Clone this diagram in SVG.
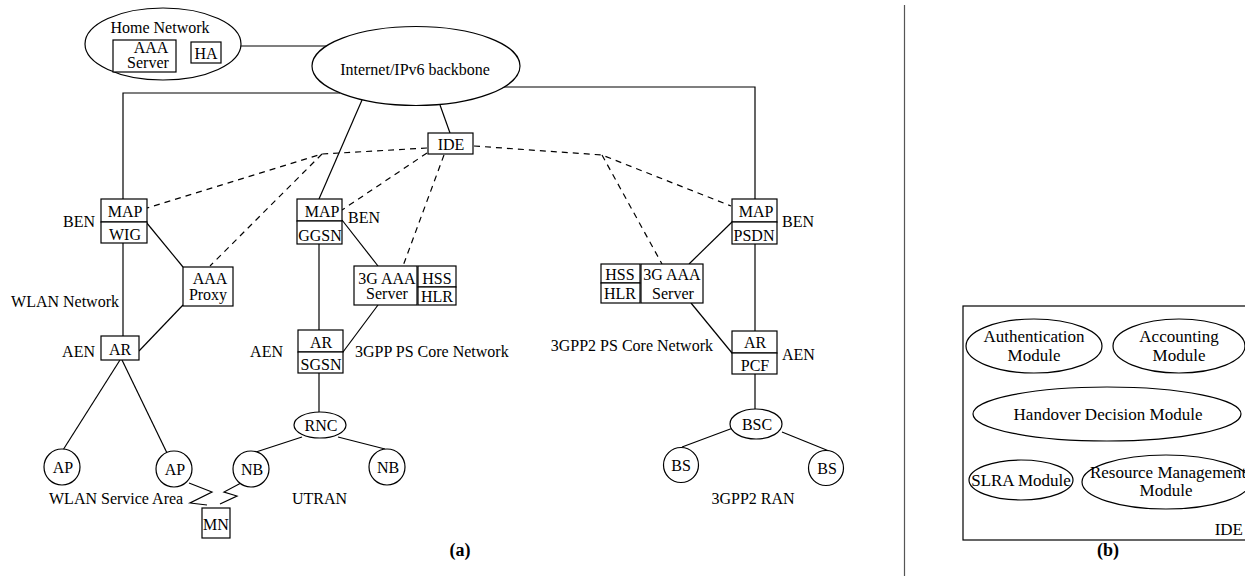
<svg xmlns="http://www.w3.org/2000/svg" width="1245" height="576" viewBox="0 0 1245 576">
<style>
  text { font-family: "Liberation Serif", "Times New Roman", serif; font-size: 16px; fill: #000; }
  .c { text-anchor: middle; }
  .e { text-anchor: end; }
  .b { font-weight: bold; font-size: 18px; }
  .p { font-size: 17px; }
  .sh { fill: #fff; stroke: #000; stroke-width: 1.2; }
  .ln { fill: none; stroke: #000; stroke-width: 1.2; }
  .ds { fill: none; stroke: #000; stroke-width: 1.2; stroke-dasharray: 6 5; }
</style>
<rect x="0" y="0" width="1245" height="576" fill="#fff"/>

<g id="connectors">
  <line class="ln" x1="241" y1="46" x2="327" y2="46"/>
  <polyline class="ln" points="340,93 123,93 123,199"/>
  <polyline class="ln" points="504,87 755,87 755,199"/>
  <line class="ln" x1="362" y1="100" x2="319" y2="199"/>
  <line class="ln" x1="440" y1="105" x2="450" y2="133"/>
  <line class="ln" x1="123" y1="243" x2="123" y2="336"/>
  <line class="ln" x1="146" y1="222" x2="183" y2="267"/>
  <line class="ln" x1="183" y1="305" x2="139" y2="351"/>
  <line class="ln" x1="120" y1="360" x2="63" y2="450"/>
  <line class="ln" x1="122" y1="360" x2="167" y2="453"/>
  <line class="ln" x1="342" y1="220" x2="378" y2="266"/>
  <line class="ln" x1="378" y1="305" x2="343" y2="352"/>
  <line class="ln" x1="319" y1="244" x2="319" y2="330"/>
  <line class="ln" x1="319" y1="373" x2="319" y2="413"/>
  <line class="ln" x1="302" y1="437" x2="256" y2="452"/>
  <line class="ln" x1="338" y1="437" x2="385" y2="449"/>
  <line class="ln" x1="732" y1="222" x2="689" y2="264"/>
  <line class="ln" x1="691" y1="303" x2="732" y2="353"/>
  <line class="ln" x1="755" y1="244" x2="755" y2="331"/>
  <line class="ln" x1="755" y1="374" x2="755" y2="409"/>
  <line class="ln" x1="733" y1="428" x2="682" y2="447"/>
  <line class="ln" x1="782" y1="432" x2="829" y2="451"/>
  <polyline class="ln" points="189,483 212,492 190,503 207,505"/>
  <polyline class="ln" points="241,483 224,492 237,496 220,504"/>
  <polyline class="ds" points="427,148 322,154 147,208"/>
  <line class="ds" x1="322" y1="154" x2="210" y2="266"/>
  <line class="ds" x1="427" y1="153" x2="342" y2="210"/>
  <line class="ds" x1="444" y1="155" x2="403" y2="266"/>
  <polyline class="ds" points="474,146 602,155 731,206"/>
  <line class="ds" x1="602" y1="155" x2="662" y2="264"/>
  <line class="ln" x1="1035" y1="372" x2="1035" y2="389"/>
  <line class="ln" x1="1176" y1="372" x2="1176" y2="389"/>
  <line class="ln" x1="1028" y1="440" x2="1028" y2="460"/>
  <line class="ln" x1="1162" y1="443" x2="1162" y2="455"/>
</g>

<g id="home-network">
  <ellipse class="sh" cx="163" cy="44" rx="78" ry="36"/>
  <text class="c" x="160" y="33">Home Network</text>
</g>
<g id="aaa-server-home">
  <rect class="sh" x="113" y="40" width="63" height="32"/>
  <text class="c" x="151" y="53">AAA</text>
  <text class="c" x="148" y="68">Server</text>
</g>
<g id="ha">
  <rect class="sh" x="191" y="42" width="30" height="21"/>
  <text class="c" x="206" y="59">HA</text>
</g>
<g id="internet">
  <ellipse class="sh" cx="416" cy="66" rx="104" ry="39.5"/>
  <text class="c" x="415" y="75">Internet/IPv6 backbone</text>
</g>
<g id="ide">
  <rect class="sh" x="428" y="133" width="45" height="21"/>
  <text class="c" x="451" y="150">IDE</text>
</g>

<g id="map-wig">
  <rect class="sh" x="101" y="199" width="46" height="23"/>
  <rect class="sh" x="101" y="222" width="46" height="21"/>
  <text class="c" x="125" y="217">MAP</text>
  <text class="c" x="125" y="240">WIG</text>
  <text class="e" x="95" y="227">BEN</text>
</g>
<g id="aaa-proxy">
  <rect class="sh" x="183" y="267" width="50" height="39"/>
  <text class="c" x="210" y="284">AAA</text>
  <text class="c" x="208" y="300">Proxy</text>
</g>
<text class="e" x="119" y="307">WLAN Network</text>
<g id="ar-wlan">
  <rect class="sh" x="101" y="336" width="38" height="24"/>
  <text class="c" x="120" y="355">AR</text>
  <text class="e" x="95" y="357">AEN</text>
</g>
<g id="ap1">
  <circle class="sh" cx="62" cy="467" r="18"/>
  <text class="c" x="63" y="473">AP</text>
</g>
<g id="ap2">
  <circle class="sh" cx="174" cy="469" r="18"/>
  <text class="c" x="175" y="475">AP</text>
</g>
<text x="49" y="504">WLAN Service Area</text>
<g id="mn">
  <rect class="sh" x="202" y="508" width="28" height="30"/>
  <text class="c" x="216" y="530">MN</text>
</g>

<g id="map-ggsn">
  <rect class="sh" x="297" y="199" width="45" height="22"/>
  <rect class="sh" x="297" y="221" width="45" height="23"/>
  <text class="c" x="322" y="217">MAP</text>
  <text class="c" x="320" y="241">GGSN</text>
  <text x="348" y="223">BEN</text>
</g>
<g id="aaa-3g">
  <rect class="sh" x="354" y="266" width="63" height="39"/>
  <text class="c" x="387" y="284">3G AAA</text>
  <text class="c" x="387" y="299">Server</text>
</g>
<g id="hss-hlr">
  <rect class="sh" x="418" y="266" width="38" height="21"/>
  <rect class="sh" x="418" y="287" width="38" height="18"/>
  <text class="c" x="437" y="284">HSS</text>
  <text class="c" x="437" y="302">HLR</text>
</g>
<g id="ar-sgsn">
  <rect class="sh" x="298" y="330" width="45" height="22"/>
  <rect class="sh" x="298" y="352" width="45" height="21"/>
  <text class="c" x="321" y="348">AR</text>
  <text class="c" x="321" y="370">SGSN</text>
  <text class="e" x="283" y="357">AEN</text>
  <text x="355" y="357">3GPP PS Core Network</text>
</g>
<g id="rnc">
  <ellipse class="sh" cx="320" cy="425" rx="26" ry="13"/>
  <text class="c" x="321" y="431">RNC</text>
</g>
<g id="nb1">
  <circle class="sh" cx="251" cy="469" r="18"/>
  <text class="c" x="252" y="475">NB</text>
</g>
<g id="nb2">
  <circle class="sh" cx="387" cy="467" r="18"/>
  <text class="c" x="388" y="473">NB</text>
</g>
<text x="292" y="504">UTRAN</text>
<text class="c b" x="460" y="556">(a)</text>

<g id="map-psdn">
  <rect class="sh" x="732" y="199" width="45" height="23"/>
  <rect class="sh" x="732" y="222" width="45" height="22"/>
  <text class="c" x="756" y="217">MAP</text>
  <text class="c" x="754" y="241">PSDN</text>
  <text x="782" y="227">BEN</text>
</g>
<g id="hss-hlr-2">
  <rect class="sh" x="601" y="264" width="39" height="19"/>
  <rect class="sh" x="601" y="283" width="39" height="20"/>
  <text class="c" x="620" y="280">HSS</text>
  <text class="c" x="620" y="299">HLR</text>
</g>
<g id="aaa-3g-2">
  <rect class="sh" x="641" y="264" width="62" height="39"/>
  <text class="c" x="672" y="280">3G AAA</text>
  <text class="c" x="673" y="299">Server</text>
</g>
<text class="e" x="713" y="351">3GPP2 PS Core Network</text>
<g id="ar-pcf">
  <rect class="sh" x="732" y="331" width="45" height="22"/>
  <rect class="sh" x="732" y="353" width="45" height="21"/>
  <text class="c" x="755" y="348">AR</text>
  <text class="c" x="755" y="371">PCF</text>
  <text x="782" y="360">AEN</text>
</g>
<g id="bsc">
  <ellipse class="sh" cx="756" cy="424" rx="26" ry="15"/>
  <text class="c" x="757" y="430">BSC</text>
</g>
<g id="bs1">
  <circle class="sh" cx="681" cy="465" r="17.5"/>
  <text class="c" x="681" y="471">BS</text>
</g>
<g id="bs2">
  <circle class="sh" cx="826" cy="468" r="17.5"/>
  <text class="c" x="827" y="474">BS</text>
</g>
<text class="c" x="753" y="504">3GPP2 RAN</text>

<line x1="904.5" y1="5" x2="904.5" y2="576" stroke="#555" stroke-width="1.2"/>

<g id="ide-panel">
  <rect class="sh" x="963" y="306" width="300" height="234"/>
  <text class="e p" x="1243" y="535">IDE</text>
</g>
<g id="auth-module">
  <ellipse class="sh" cx="1034" cy="346" rx="68" ry="27"/>
  <text class="c p" x="1034" y="342">Authentication</text>
  <text class="c p" x="1034" y="361">Module</text>
</g>
<g id="acct-module">
  <ellipse class="sh" cx="1179" cy="346" rx="66" ry="27"/>
  <text class="c p" x="1179" y="342">Accounting</text>
  <text class="c p" x="1179" y="361">Module</text>
</g>
<g id="handover-module">
  <ellipse class="sh" cx="1107" cy="414" rx="134" ry="27"/>
  <text class="c p" x="1108" y="420">Handover Decision Module</text>
</g>
<g id="slra-module">
  <ellipse class="sh" cx="1021" cy="480" rx="52" ry="20"/>
  <text class="c p" x="1021" y="486">SLRA Module</text>
</g>
<g id="rm-module">
  <ellipse class="sh" cx="1166" cy="482" rx="84" ry="27"/>
  <text class="c p" x="1168" y="478">Resource Management</text>
  <text class="c p" x="1166" y="496">Module</text>
</g>
<text class="c b" x="1108" y="556">(b)</text>
</svg>
